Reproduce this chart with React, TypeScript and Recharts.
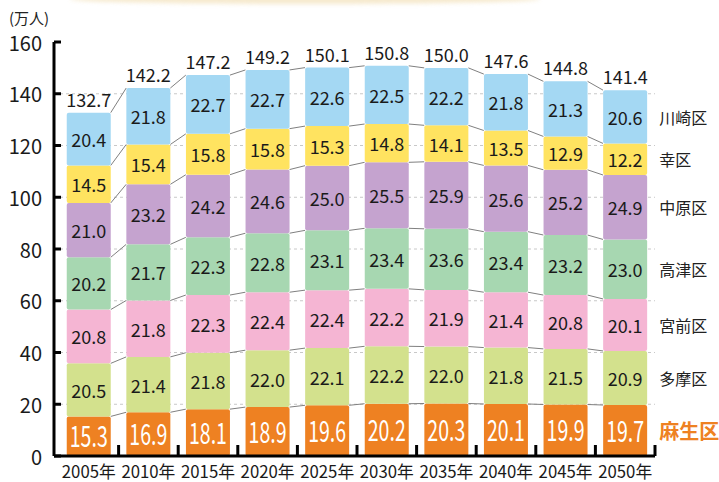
// Stacked bar chart: Kawasaki population by ward, 2005-2050 (万人)
import { BarChart, Bar, XAxis, YAxis, CartesianGrid, LabelList } from "recharts";

const FONT = '"Noto Sans CJK JP", "Noto Sans", sans-serif';

const years = ["2005年", "2010年", "2015年", "2020年", "2025年", "2030年", "2035年", "2040年", "2045年", "2050年"];
const asao = [15.3, 16.9, 18.1, 18.9, 19.6, 20.2, 20.3, 20.1, 19.9, 19.7];
const tama = [20.5, 21.4, 21.8, 22.0, 22.1, 22.2, 22.0, 21.8, 21.5, 20.9];
const miyamae = [20.8, 21.8, 22.3, 22.4, 22.4, 22.2, 21.9, 21.4, 20.8, 20.1];
const takatsu = [20.2, 21.7, 22.3, 22.8, 23.1, 23.4, 23.6, 23.4, 23.2, 23.0];
const nakahara = [21.0, 23.2, 24.2, 24.6, 25.0, 25.5, 25.9, 25.6, 25.2, 24.9];
const saiwai = [14.5, 15.4, 15.8, 15.8, 15.3, 14.8, 14.1, 13.5, 12.9, 12.2];
const kawasaki = [20.4, 21.8, 22.7, 22.7, 22.6, 22.5, 22.2, 21.8, 21.3, 20.6];
const totals = [132.7, 142.2, 147.2, 149.2, 150.1, 150.8, 150.0, 147.6, 144.8, 141.4];
const yTicks = [0, 20, 40, 60, 80, 100, 120, 140, 160];
const gridValues = [20, 40, 60, 80, 100, 120, 140];

// bottom to top
const SERIES = [
  { key: "asao", name: "麻生区", values: asao, color: "#ee8122" },
  { key: "tama", name: "多摩区", values: tama, color: "#d3e18d" },
  { key: "miyamae", name: "宮前区", values: miyamae, color: "#f5b5d3" },
  { key: "takatsu", name: "高津区", values: takatsu, color: "#a7d7b1" },
  { key: "nakahara", name: "中原区", values: nakahara, color: "#c5a3cf" },
  { key: "saiwai", name: "幸区", values: saiwai, color: "#ffe360" },
  { key: "kawasaki", name: "川崎区", values: kawasaki, color: "#a4d8f3" },
];

const data = years.map((year, i) => {
  const row: Record<string, number | string> = { year, total: totals[i] };
  SERIES.forEach((s) => (row[s.key] = s.values[i]));
  return row;
});

// cumulative top of each segment, used for the connector lines
const cumTop: Record<string, number[]> = {};
SERIES.forEach((s, si) => {
  cumTop[s.key] = years.map((_, i) =>
    SERIES.slice(0, si + 1).reduce((acc, t) => acc + t.values[i], 0)
  );
});

const GAP = 0.13;
const BAND = 59.6;

function makeShape(key: string, fill: string) {
  return (props: any) => {
    const { x, y, width, height, index } = props;
    const seg = data[index][key] as number;
    const k = height / seg;
    const band = width / (1 - 2 * GAP);
    const tops = cumTop[key];
    let conn = null;
    if (index < tops.length - 1) {
      const ny = y + (tops[index] - tops[index + 1]) * k;
      conn = <line x1={x + width} y1={y} x2={x + band} y2={ny} stroke="#808080" strokeWidth={1} />;
    }
    return (
      <g>
        <rect x={x} y={y} width={width} height={height} rx={2} ry={2} fill={fill} />
        {conn}
      </g>
    );
  };
}

function valueLabel(white: boolean) {
  return (props: any) => {
    const { x, y, width, height, value } = props;
    const text = Number(value).toFixed(1);
    if (white) {
      return (
        <text x={x + width / 2} y={y + height / 2 - 2} textAnchor="middle" dominantBaseline="central"
          fontSize={29} fill="#fff" fontFamily={FONT} textLength={38} lengthAdjust="spacingAndGlyphs">
          {text}
        </text>
      );
    }
    return (
      <text x={x + width / 2} y={y + height / 2} textAnchor="middle" dominantBaseline="central"
        fontSize={18} fill="#1a1a1a" fontFamily={FONT}>
        {text}
      </text>
    );
  };
}

function sideLabel(name: string, highlight: boolean) {
  return (props: any) => {
    const { x, y, width, height, index } = props;
    if (index !== years.length - 1) return null;
    return (
      <text x={x + width + 12} y={y + height / 2} dominantBaseline="central"
        fontSize={highlight ? 20 : 16} fontWeight={highlight ? 700 : 400}
        fill={highlight ? "#ee8122" : "#222"} fontFamily={FONT}>
        {name}
      </text>
    );
  };
}

function totalLabel(props: any) {
  const { x, y, width, value } = props;
  return (
    <text x={x + width / 2} y={y - 14} textAnchor="middle" dominantBaseline="central"
      fontSize={18} fill="#1a1a1a" fontFamily={FONT}>
      {Number(value).toFixed(1)}
    </text>
  );
}

function XTick(props: any) {
  const { x, y, payload } = props;
  const axisY = y - 4;
  return (
    <g>
      <line x1={x + BAND / 2} y1={axisY} x2={x + BAND / 2} y2={axisY - 11} stroke="#000" strokeWidth={3} />
      <text x={x} y={axisY + 22} textAnchor="middle" fontSize={17} fill="#1a1a1a" fontFamily={FONT}
        textLength={54} lengthAdjust="spacingAndGlyphs">
        {payload.value}
      </text>
    </g>
  );
}

function YTick(props: any) {
  const { x, y, payload } = props;
  const axisX = x + 12;
  return (
    <g>
      <line x1={axisX} y1={y} x2={axisX + 7} y2={y} stroke="#000" strokeWidth={3} />
      <text x={x} y={y} textAnchor="end" dominantBaseline="central" fontSize={20} fill="#1a1a1a" fontFamily={FONT}>
        {payload.value}
      </text>
    </g>
  );
}

export default function App() {
  return (
    <div style={{ position: "absolute", left: 0, top: 0, width: 719, height: 482, background: "#fff", fontFamily: FONT, overflow: "hidden" }}>
      <div style={{ position: "absolute", left: 70, top: -6, width: 470, height: 10, borderRadius: "50%", background: "#f2e0b8", filter: "blur(2px)", opacity: 0.7 }} />
      <div style={{ position: "absolute", left: 9, top: 7, fontSize: 15, color: "#222" }}>(万人)</div>
      <BarChart width={719} height={482} data={data} margin={{ top: 42, right: 64, left: 0, bottom: 0 }} barCategoryGap={`${GAP * 100}%`}>
        <CartesianGrid vertical={false} stroke="#c8c8c8" strokeDasharray="3 3" horizontalValues={gridValues} />
        <XAxis dataKey="year" height={26} padding={{ left: 5, right: 0 }} interval={0}
          axisLine={{ stroke: "#000", strokeWidth: 3 }} tickLine={false} tickSize={0} tickMargin={4} tick={<XTick />} />
        <YAxis width={54} domain={[0, 160]} ticks={yTicks} interval={0}
          axisLine={{ stroke: "#000", strokeWidth: 3 }} tickLine={false} tickSize={0} tickMargin={12} tick={<YTick />} />
        {SERIES.map((s, si) => (
          <Bar key={s.key} dataKey={s.key} stackId="a" fill={s.color} isAnimationActive={false}
            shape={makeShape(s.key, s.color)}>
            <LabelList dataKey={s.key} content={valueLabel(si === 0)} />
            <LabelList dataKey={s.key} content={sideLabel(s.name, si === 0)} />
            {si === SERIES.length - 1 && <LabelList dataKey="total" content={totalLabel} />}
          </Bar>
        ))}
      </BarChart>
    </div>
  );
}
